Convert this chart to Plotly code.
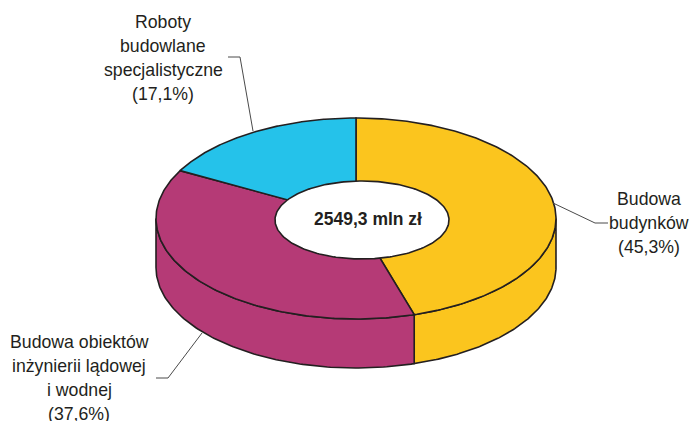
import numpy as np
import plotly.graph_objects as go

# Data
categories = ["Budowa budynków", "Budowa obiektów inżynierii lądowej i wodnej", "Roboty budowlane specjalistyczne"]
shares = [45.3, 37.6, 17.1]
total_label = "2549,3 mln zł"
label_lines = [
    ["Budowa", "budynków", "(45,3%)"],
    ["Budowa obiektów", "inżynierii lądowej", "i wodnej", "(37,6%)"],
    ["Roboty", "budowlane", "specjalistyczne", "(17,1%)"],
]

# Style / geometry
colors = ["#FBC51E", "#B53A76", "#25C2EA"]
INK = "#231F20"
CX, CY, RX, RY, DEPTH = 356, 218.5, 200, 100.5, 49
HX, HY, HRX, HRY = 362, 220, 87, 39
FONT = "Liberation Sans"
LABEL_POS = [(649, [199, 223, 247]), (79, [342, 366, 390, 414]), (163, [22, 46, 70, 94])]
LEADERS = [
    ([553, 595, 608], [203, 223, 223]),
    ([202, 168, 156], [333, 378, 378]),
    ([253, 240, 228], [131, 57, 57]),
]


def ell(t, cy=CY):
    return CX + RX * np.sin(t), cy - RY * np.cos(t)


edges = np.radians(np.concatenate([[0], np.cumsum(shares)]) * 3.6)
fig = go.Figure()


def poly(x, y, fill, lw=1.6):
    fig.add_trace(go.Scatter(x=x, y=y, mode="lines", fill="toself", fillcolor=fill,
                             line=dict(color=INK, width=lw), hoverinfo="skip", showlegend=False))


# Side walls (front half of the ring only)
for i in range(3):
    a, b = max(edges[i], np.pi / 2), min(edges[i + 1], 1.5 * np.pi)
    if a >= b:
        continue
    t = np.linspace(a, b, 120)
    xt, yt = ell(t)
    xb, yb = ell(t[::-1], CY + DEPTH)
    poly(np.r_[xt, xb, xt[0]], np.r_[yt, yb, yt[0]], colors[i])

# Top face wedges
for i in range(3):
    t = np.linspace(edges[i], edges[i + 1], 200)
    x, y = ell(t)
    poly(np.r_[CX, x, CX], np.r_[CY, y, CY], colors[i])

# Hole
t = np.linspace(0, 2 * np.pi, 240)
poly(HX + HRX * np.sin(t), HY - HRY * np.cos(t), "#FFFFFF")

# Leader lines
for lx, ly in LEADERS:
    fig.add_trace(go.Scatter(x=lx, y=ly, mode="lines", line=dict(color="#4A4A4A", width=1),
                             hoverinfo="skip", showlegend=False))

# Labels
annotations = []
for lines, (lx, ys) in zip(label_lines, LABEL_POS):
    for text, y in zip(lines, ys):
        annotations.append(dict(x=lx, y=y, xref="x", yref="y", text=text, showarrow=False,
                                xanchor="center", yanchor="middle",
                                font=dict(family=FONT, size=17.7, color=INK)))
annotations.append(dict(x=368, y=219, xref="x", yref="y", text=f"<b>{total_label}</b>", showarrow=False,
                        xanchor="center", yanchor="middle",
                        font=dict(family=FONT, size=17.5, color=INK)))

fig.update_layout(
    width=692, height=421, margin=dict(l=0, r=0, t=0, b=0),
    paper_bgcolor="white", plot_bgcolor="white", showlegend=False,
    xaxis=dict(range=[0, 692], visible=False, fixedrange=True),
    yaxis=dict(range=[421, 0], visible=False, fixedrange=True),
    annotations=annotations,
)
fig.write_html("out.html", config={"displayModeBar": False},
               post_script="document.body.style.margin='0';document.body.style.overflow='hidden';")
